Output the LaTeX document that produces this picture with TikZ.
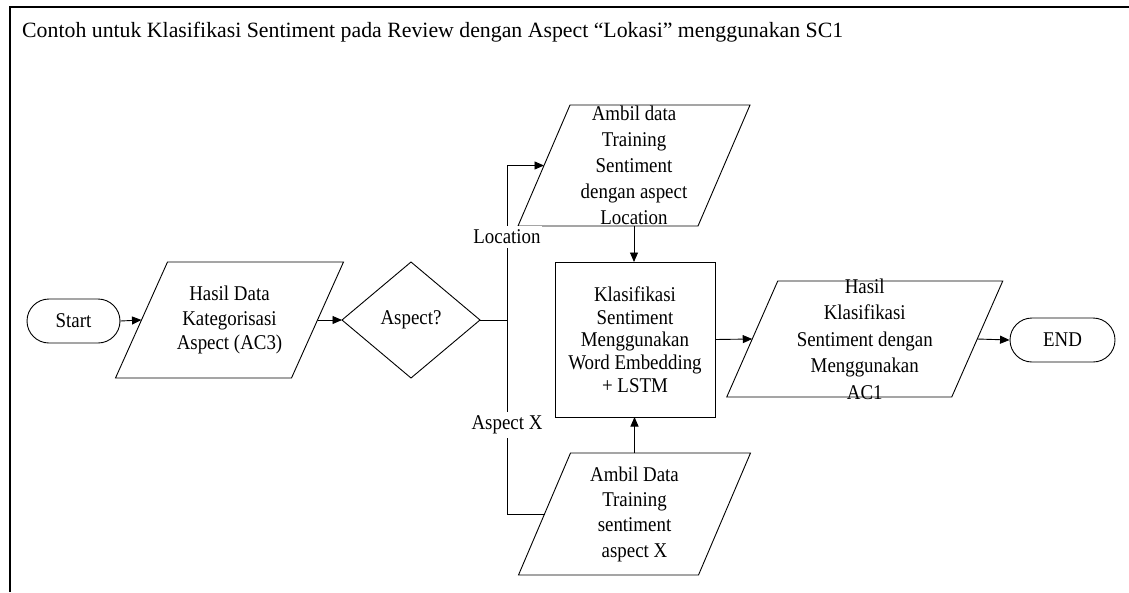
\documentclass[tikz,border=0pt]{standalone}
\usepackage{fontspec}
\setmainfont{Liberation Serif}[FakeStretch=0.9]
\newfontfamily\titlefont{Liberation Serif}
\usetikzlibrary{shapes.geometric,arrows.meta,calc}
\newcommand{\paraedge}[2]{\draw[shapeline] ([xshift=-#2]#1.south west) -- ([xshift=-#2]#1.south east) -- ([xshift=#2]#1.north east) -- ([xshift=#2]#1.north west) -- cycle;}
\begin{document}
\begin{tikzpicture}[x=1pt,y=-1pt,
  txt/.style={font=\fontsize{21}{25.5}\selectfont, align=center, inner sep=0pt},
  shapeline/.style={draw=black, line width=0.9pt},
  term/.style={txt, shapeline, rounded corners=22pt, minimum width=93pt, minimum height=44pt},
  box/.style={txt, outer sep=0pt},
  proc/.style={txt, shapeline, outer sep=0pt, minimum width=160pt, minimum height=155pt, font=\fontsize{21}{22.7}\selectfont},
  dec/.style={txt, shapeline, diamond, aspect=1, outer sep=0pt, minimum width=138pt, minimum height=116pt},
  conn/.style={line width=0.9pt, -{Triangle[length=9.5pt,width=8pt]}},
  plain/.style={line width=0.9pt},
  lbl/.style={txt, fill=white, inner xsep=1pt, inner ysep=4pt},
]
\useasboundingbox (0,0) rectangle (1129,592);
\draw[line width=2pt] (10,592) -- (10,7) -- (1129,7);
\node[txt, font=\titlefont\fontsize{21.8}{26}\selectfont, anchor=base west] (title) at (22,37) {Contoh untuk Klasifikasi Sentiment pada Review dengan Aspect “Lokasi” menggunakan SC1};

\node[term] (start) at (73.5,321) {Start};
\node[box, minimum width=176pt, minimum height=116pt,
  label={[txt, font=\fontsize{21}{24.5}\selectfont]center:{Hasil Data\\Kategorisasi\\Aspect (AC3)}}] (p1) at (229.5,320) {};
\paraedge{p1}{26pt}
\node[dec] (dia) at (411,320) {Aspect?};
\coordinate (j) at (507,320);

\node[box, minimum width=180pt, minimum height=121pt,
  label={[txt, font=\fontsize{21}{26}\selectfont]center:{Ambil data\\Training\\Sentiment\\dengan aspect\\Location}}] (ploc) at (634,165.5) {};
\paraedge{ploc}{26pt}

\node[proc] (rect) at (635,339.5) {Klasifikasi\\Sentiment\\Menggunakan\\Word Embedding\\+ LSTM};

\node[box, minimum width=180pt, minimum height=122pt,
  label={[txt, font=\fontsize{21}{25.3}\selectfont]center:{Ambil Data\\Training\\sentiment\\aspect X}}] (pax) at (634.5,514) {};
\paraedge{pax}{26pt}

\node[box, minimum width=225pt, minimum height=116pt,
  label={[txt, font=\fontsize{21}{26.5}\selectfont]center:{Hasil\\Klasifikasi\\Sentiment dengan\\Menggunakan\\AC1}}] (p3) at (864.75,339) {};
\paraedge{p3}{25.5pt}

\node[term, minimum width=105pt] (end) at (1062.5,340) {END};

\draw[conn] (start.east) -- (p1.west);
\draw[conn] (p1.east) -- (dia.west);
\draw[plain] (dia.east) -- (j);
\draw[conn] (j) -- node[lbl, pos=0.537] {Location} (j |- ploc.west) -- (ploc.west);
\draw[plain] (j) -- node[lbl, pos=0.541] {Aspect X} (j |- pax.west) -- (pax.west);
\draw[conn] (ploc.south) -- (ploc.south |- rect.north);
\draw[conn] (pax.north) -- (pax.north |- rect.south);
\draw[conn] (rect.east) -- (p3.west);
\draw[conn] (p3.east) -- (end.west);
\end{tikzpicture}
\end{document}
